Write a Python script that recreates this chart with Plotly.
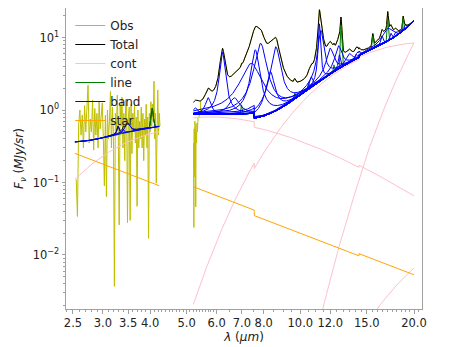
import numpy as np
import plotly.graph_objects as go

# ---------------- values ----------------
# Observed spectrum, short-wavelength segment (very noisy), MJy/sr
obs_left_range_um = (2.55, 4.25)
obs_left = [
    0.11, 0.034, 0.62, 1.0, 0.45, 0.85, 0.3, 1.15, 0.5, 0.95,
    2.2, 0.35, 0.75, 0.5, 1.37, 0.28, 1.05, 0.45, 0.9, 0.3,
    1.3, 0.55, 0.8, 1.25, 0.4, 0.09, 0.85, 0.064, 1.0, 0.4,
    0.7, 1.8, 0.3, 1.1, 0.5, 0.0037, 0.9, 0.45, 1.6, 0.5,
    0.026, 1.2, 0.6, 1.5, 0.3, 0.9, 0.2, 1.4, 1.37, 0.028,
    0.8, 1.1, 0.03, 1.2, 0.25, 0.9, 0.5, 1.2, 0.35, 0.8,
    0.047, 1.0, 0.3, 0.7, 0.4, 1.1, 0.3, 0.9, 0.2, 0.75,
    0.45, 1.2, 0.3, 0.8, 0.017, 0.9, 0.5, 1.3, 0.6, 1.2,
    0.7, 2.5, 0.4, 0.9, 0.098, 1.1, 1.89, 0.45, 0.9, 0.6,
]
# Observed spectrum, noisy start of the long-wavelength segment
obs_right_start_um = [5.215, 5.225, 5.235, 5.245, 5.255, 5.265, 5.275, 5.285,
                      5.295, 5.31, 5.325, 5.34, 5.36, 5.385, 5.41, 5.44]
obs_right_start = [0.35, 0.024, 0.55, 0.12, 0.7, 0.3, 0.6, 0.046,
                   0.5, 0.35, 0.66, 0.5, 0.8, 0.78, 0.88, 0.92]

# Module stitching factors (steps seen at 7.55 and 14.3 um)
module_edges_um = [7.55, 14.3]
module_scale = [1.0, 0.84, 0.90]

# Continuum components (modified blackbodies): temperature, reference wavelength, value there
cont_left_T, cont_left_ref_um, cont_left_ref_val = 560.0, 4.2, 0.50
cont_right_T = [500.0, 135.0, 48.0, 75.0]
cont_right_ref_um = [5.22, 20.0, 20.0, 20.0]
cont_right_ref_val = [0.78, 8.4, 8.4, 0.0066]

# Stellar component: reference wavelength and value for each segment
star_left_ref_um, star_left_ref_val = 2.557, 0.247
star_right_ref_um, star_right_ref_val = 5.22, 0.087

# Dust bands (Drude): centre (um), FWHM (um), peak above continuum (MJy/sr)
band_left_um = [3.29, 3.40, 3.48]
band_left_fwhm = [0.045, 0.035, 0.11]
band_left_peak = [0.13, 0.06, 0.17]

band_right_um = [5.27, 5.70, 6.22, 6.69, 7.42, 7.60, 7.85, 8.33, 8.61, 10.68, 11.23, 11.33,
                 11.99, 12.62, 12.69, 13.48, 14.04, 14.19, 15.90, 16.45, 17.04, 17.375, 17.87, 18.92]
band_right_fwhm = [0.179, 0.200, 0.187, 0.468, 0.935, 0.334, 0.50, 0.417, 0.45, 0.214, 0.135, 0.363,
                   0.540, 0.530, 0.165, 0.539, 0.225, 0.355, 0.318, 0.230, 1.108, 0.209, 0.286, 0.359]
band_right_peak = [0.2, 0.6, 5.4, 0.6, 3.5, 6.0, 7.5, 2.5, 6.5, 0.8, 13.0, 10.0,
                   4.0, 4.0, 2.0, 1.5, 0.8, 1.2, 0.6, 2.5, 4.5, 2.0, 1.5, 1.8]

# Emission lines (Gaussian): centre (um), FWHM (um), peak (MJy/sr)
line_left_um = [4.052]
line_left_fwhm = [0.06]
line_left_peak = [0.48]
line_right_um = [6.985, 9.665, 10.511, 12.279, 12.814, 15.555, 17.035, 18.713]
line_right_fwhm = [0.05, 0.10, 0.10, 0.10, 0.12, 0.14, 0.14, 0.15]
line_right_peak = [0.3, 0.3, 0.4, 0.8, 11.0, 3.5, 9.0, 6.0]

# Axis ticks
x_tick_vals = [2.5, 3.0, 3.5, 4.0, 5.0, 6.0, 7.0, 8.0, 10.0, 12.0, 15.0, 20.0]
x_tick_text = ["2.5", "3.0", "3.5", "4.0", "5.0", "6.0", "7.0", "8.0", "10.0", "12.0", "15.0", "20.0"]
y_tick_vals = [0.01, 0.1, 1, 10]
y_tick_text = ["10<sup>\u22122</sup>", "10<sup>\u22121</sup>", "10<sup>0</sup>", "10<sup>1</sup>"]

colors = {"Obs": "#bfbf00", "Total": "#000000", "cont": "#ffc0cb",
          "line": "#008000", "band": "#0000ff", "star": "#ffa500"}

# ---------------- model evaluation ----------------
wl_L = np.linspace(2.53, 4.23, 600)
wl_R = np.geomspace(5.21, 20.0, 2000)


def mbb(lam, T):
    return lam ** -5 / np.expm1(14387.8 / (lam * T))


def module_factor(lam):
    lam = np.asarray(lam, dtype=float)
    f = np.full(lam.shape, module_scale[0])
    f[lam >= module_edges_um[0]] = module_scale[1]
    f[lam >= module_edges_um[1]] = module_scale[2]
    return f


def drude(lam, c, fwhm, peak):
    g = fwhm / c
    return peak * g ** 2 / ((lam / c - c / lam) ** 2 + g ** 2)


def gauss(lam, c, fwhm, peak):
    s = fwhm / 2.3548
    return peak * np.exp(-0.5 * ((lam - c) / s) ** 2)


fR = module_factor(wl_R)
cont_L = cont_left_ref_val * mbb(wl_L, cont_left_T) / mbb(cont_left_ref_um, cont_left_T)
conts_R = []
for T, r, v in zip(cont_right_T, cont_right_ref_um, cont_right_ref_val):
    conts_R.append(v * mbb(wl_R, T) / mbb(r, T) * fR / module_factor([r])[0])
star_L = star_left_ref_val * (wl_L / star_left_ref_um) ** -2
star_R = star_right_ref_val * (wl_R / star_right_ref_um) ** -2 * fR

base_L = cont_L + star_L
base_R = sum(conts_R) + star_R

bands_L = [drude(wl_L, c, w, p) for c, w, p in zip(band_left_um, band_left_fwhm, band_left_peak)]
bands_R = [drude(wl_R, c, w, p) for c, w, p in zip(band_right_um, band_right_fwhm, band_right_peak)]
lines_L = [gauss(wl_L, c, w, p) for c, w, p in zip(line_left_um, line_left_fwhm, line_left_peak)]
lines_R = [gauss(wl_R, c, w, p) for c, w, p in zip(line_right_um, line_right_fwhm, line_right_peak)]

total_L = base_L + sum(bands_L) + sum(lines_L)
total_R = base_R + sum(bands_R) + sum(lines_R)


def join(xl, yl, xr, yr):
    x = list(xl) + [None] + list(xr)
    y = list(yl) + [None] + list(yr)
    return x, y


fig = go.Figure()

# Obs
obs_wl_L = np.linspace(obs_left_range_um[0], obs_left_range_um[1], len(obs_left))
keep = wl_R > obs_right_start_um[-1]
obs_x_R = list(obs_right_start_um) + list(wl_R[keep])
obs_y_R = list(obs_right_start) + list(total_R[keep])
x, y = join(obs_wl_L, obs_left, obs_x_R, obs_y_R)
fig.add_trace(go.Scatter(x=x, y=y, mode="lines", name="Obs", legendgroup="Obs",
                         line=dict(color=colors["Obs"], width=1)))

# Total
x, y = join(wl_L, total_L, wl_R, total_R)
fig.add_trace(go.Scatter(x=x, y=y, mode="lines", name="Total", legendgroup="Total",
                         line=dict(color=colors["Total"], width=1)))

# Continuum components
x, y = join(wl_L, cont_L, wl_R, conts_R[0])
fig.add_trace(go.Scatter(x=x, y=y, mode="lines", name="cont", legendgroup="cont",
                         line=dict(color=colors["cont"], width=1)))
for c in conts_R[1:]:
    fig.add_trace(go.Scatter(x=wl_R, y=c, mode="lines", name="cont", legendgroup="cont",
                             showlegend=False, line=dict(color=colors["cont"], width=1)))

# Lines (drawn on top of continuum)
first = True
for wl, base, comps in ((wl_L, base_L, lines_L), (wl_R, base_R, lines_R)):
    for comp in comps:
        fig.add_trace(go.Scatter(x=wl, y=base + comp, mode="lines", name="line", legendgroup="line",
                                 showlegend=first, line=dict(color=colors["line"], width=1)))
        first = False

# Bands (drawn on top of continuum)
first = True
for wl, base, comps in ((wl_L, base_L, bands_L), (wl_R, base_R, bands_R)):
    for comp in comps:
        fig.add_trace(go.Scatter(x=wl, y=base + comp, mode="lines", name="band", legendgroup="band",
                                 showlegend=first, line=dict(color=colors["band"], width=1)))
        first = False

# Star
x, y = join(wl_L, star_L, wl_R, star_R)
fig.add_trace(go.Scatter(x=x, y=y, mode="lines", name="star", legendgroup="star",
                         line=dict(color=colors["star"], width=1)))

x_minor = [round(v, 1) for v in np.arange(2.4, 6.0, 0.1)] + [round(v, 1) for v in np.arange(6.0, 21.0, 0.5)]
y_minor = [m * 10.0 ** e for e in range(-3, 2) for m in range(2, 10)]

# The page body adds an 8 px offset; the figure is sized so the plot box lands where
# the reference has it (x 66-422, y 8-309 on screen).
axis_col = "#a0a0a0"
fig.update_layout(
    width=441, height=339,
    margin=dict(l=58, r=27, t=0, b=38),
    paper_bgcolor="white", plot_bgcolor="white",
    font=dict(family="DejaVu Sans", size=12, color="#222222"),
    showlegend=True,
    legend=dict(x=0.012, y=0.99, xanchor="left", yanchor="top",
                bgcolor="rgba(0,0,0,0)", borderwidth=0,
                font=dict(size=12, color="#222222"), tracegroupgap=0),
    xaxis=dict(type="log", range=[np.log10(2.396), np.log10(21.0)],
               tickvals=x_tick_vals, ticktext=x_tick_text,
               ticks="outside", ticklen=3.5, tickcolor=axis_col,
               showline=True, linecolor=axis_col, linewidth=1, mirror=True,
               showgrid=False, zeroline=False, tickfont=dict(size=11.5),
               minor=dict(tickvals=x_minor, ticks="outside", ticklen=2, tickcolor=axis_col),
               title=dict(text="<i>λ</i> (<i>μm</i>)", font=dict(size=12), standoff=0)),
    yaxis=dict(type="log", range=[-2.745, 1.407],
               tickvals=y_tick_vals, ticktext=y_tick_text,
               ticks="outside", ticklen=3.5, tickcolor=axis_col,
               showline=True, linecolor=axis_col, linewidth=1, mirror=True,
               showgrid=False, zeroline=False, tickfont=dict(size=11.5),
               minor=dict(tickvals=y_minor, ticks="outside", ticklen=2, tickcolor=axis_col),
               title=dict(text="<i>F<sub>ν</sub></i> (<i>MJy/sr</i>)", font=dict(size=12), standoff=6)),
)

fig.write_html("out.html")
